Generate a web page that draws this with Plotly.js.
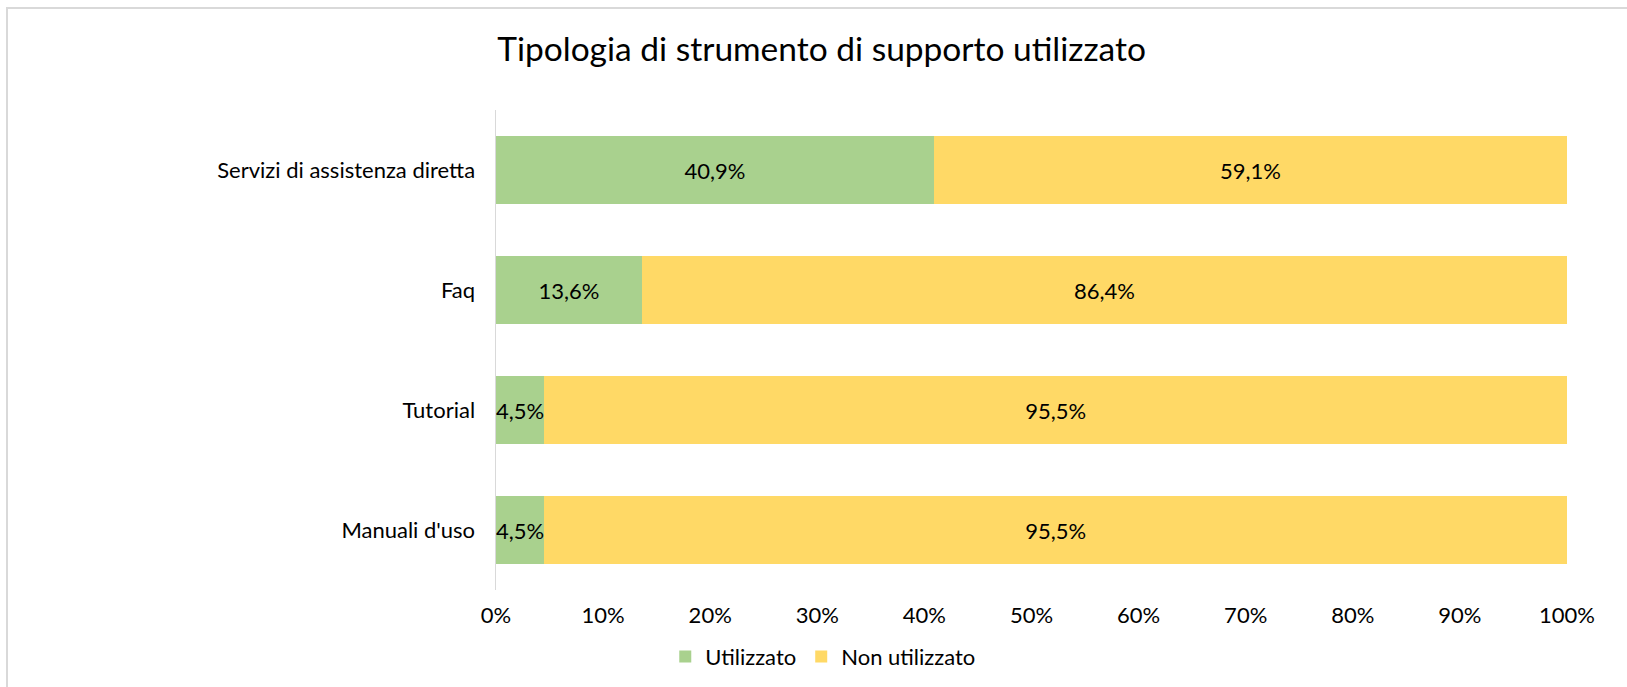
<!DOCTYPE html>
<html>
<head>
<meta charset="utf-8">
<script src="https://cdn.plot.ly/plotly-3.0.1.min.js"></script>
<style>
  html, body { margin: 0; padding: 0; background: #fff; }
  #wrap { position: relative; width: 1627px; height: 687px; overflow: hidden; }
  #chart { position: absolute; left: 0; top: 0; width: 1627px; height: 687px; }
  #frame { position: absolute; left: 6px; top: 7px; width: 1640px; height: 700px;
           border-top: 2px solid #D9D9D9; border-left: 2px solid #D9D9D9; pointer-events: none; }
</style>
</head>
<body>
<div id="wrap">
  <div id="chart"></div>
  <div id="frame"></div>
</div>
<script>
const categories = ["Servizi di assistenza diretta", "Faq", "Tutorial", "Manuali d'uso"];
const utilizzato = [40.9, 13.6, 4.5, 4.5];
const nonUtilizzato = [59.1, 86.4, 95.5, 95.5];
const seriesNames = ["Utilizzato", "Non utilizzato"];
const xTickValues = [0, 10, 20, 30, 40, 50, 60, 70, 80, 90, 100];

const FONT = "Lato, 'Noto Sans', sans-serif";

function barTrace(name, values, color) {
  return {
    type: 'bar',
    orientation: 'h',
    name: name,
    y: categories,
    x: values,
    marker: { color: color },
    texttemplate: '%{x:.1f}%',
    textposition: 'inside',
    insidetextanchor: 'middle',
    textangle: 0,
    constraintext: 'none',
    cliponaxis: false,
    textfont: { family: FONT, size: 22, color: '#000000' },
    hoverinfo: 'skip'
  };
}

const data = [
  barTrace(seriesNames[0], utilizzato, '#A9D18E'),
  barTrace(seriesNames[1], nonUtilizzato, '#FFD966')
];

const layout = {
  width: 1627,
  height: 687,
  separators: ',.',
  barmode: 'stack',
  bargap: 0.433,
  paper_bgcolor: '#ffffff',
  plot_bgcolor: '#ffffff',
  font: { family: FONT, size: 22, color: '#000000' },
  margin: { l: 496, r: 60, t: 110, b: 97, pad: 0 },
  title: {
    text: 'Tipologia di strumento di supporto utilizzato',
    font: { family: FONT, size: 33.5, color: '#000000' },
    xref: 'container', x: 0.505, xanchor: 'center',
    yref: 'container', y: 0.928, yanchor: 'middle'
  },
  xaxis: {
    range: [0, 100],
    tickvals: xTickValues,
    ticktext: xTickValues.map(v => v + '%'),
    showgrid: false,
    zeroline: false,
    showline: false,
    ticks: '',
    ticklabelstandoff: 10,
    tickfont: { family: FONT, size: 22, color: '#000000' },
    fixedrange: true
  },
  yaxis: {
    type: 'category',
    autorange: 'reversed',
    showgrid: false,
    zeroline: false,
    showline: true,
    linecolor: '#D9D9D9',
    linewidth: 1.5,
    ticks: '',
    ticklabelstandoff: 15,
    tickfont: { family: FONT, size: 22, color: '#000000' },
    fixedrange: true
  },
  showlegend: true,
  legend: {
    orientation: 'h',
    xref: 'container', x: 0.506, xanchor: 'center',
    yref: 'container', y: 0.044, yanchor: 'middle',
    font: { family: FONT, size: 22, color: '#000000' },
    itemwidth: 30,
    traceorder: 'normal'
  }
};

Plotly.newPlot('chart', data, layout, { displayModeBar: false, staticPlot: true });
</script>
</body>
</html>
